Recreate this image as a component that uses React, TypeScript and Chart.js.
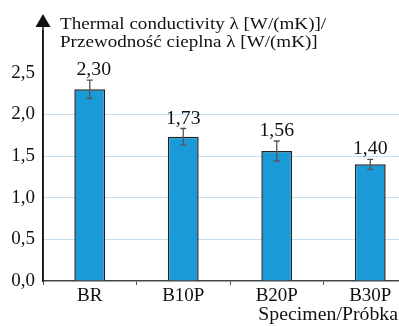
import React, { useEffect, useRef } from "react";
import { Chart, registerables } from "chart.js";

Chart.register(...registerables);

const categories = ["BR", "B10P", "B20P", "B30P"];
const values = [2.3, 1.73, 1.56, 1.4];
const errors = [0.11, 0.1, 0.12, 0.06];
const valueLabels = ["2,30", "1,73", "1,56", "1,40"];
const titleLines = ["Thermal conductivity λ [W/(mK)]/", "Przewodność cieplna λ [W/(mK)]"];
const xTitle = "Specimen/Próbka";

const FONT = '"Liberation Serif", "Times New Roman", serif';

export default function App() {
  const ref = useRef<HTMLCanvasElement | null>(null);
  useEffect(() => {
    const canvas = ref.current!;
    const deco = {
      id: "deco",
      afterDatasetsDraw(chart: any) {
        const ctx = chart.ctx;
        const y = chart.scales.y;
        const x = chart.scales.x;
        const area = chart.chartArea;
        ctx.save();
        // error bars
        values.forEach((v, i) => {
          const cx = x.getPixelForValue(i);
          const t = y.getPixelForValue(v + errors[i]);
          const b = y.getPixelForValue(v - errors[i]);
          ctx.strokeStyle = "#555";
          ctx.lineWidth = 1.3;
          ctx.beginPath();
          ctx.moveTo(cx, t);
          ctx.lineTo(cx, b);
          ctx.moveTo(cx - 3, t);
          ctx.lineTo(cx + 3, t);
          ctx.moveTo(cx - 3, b);
          ctx.lineTo(cx + 3, b);
          ctx.stroke();
          ctx.fillStyle = "#111";
          ctx.font = "18px " + FONT;
          ctx.textAlign = "center";
          ctx.textBaseline = "alphabetic";
          ctx.save();
          ctx.translate(cx + (i === 0 ? 4 : 0), t - 5);
          ctx.scale(1.1, 1);
          ctx.fillText(valueLabels[i], 0, 0);
          ctx.restore();
        });
        // y axis extension + arrow
        const ax = area.left;
        ctx.strokeStyle = "#111";
        ctx.lineWidth = 1.5;
        ctx.beginPath();
        ctx.moveTo(ax, area.bottom);
        ctx.lineTo(ax, 24);
        ctx.stroke();
        ctx.fillStyle = "#111";
        ctx.beginPath();
        ctx.moveTo(ax, 14);
        ctx.lineTo(ax - 7.5, 27);
        ctx.lineTo(ax + 7.5, 27);
        ctx.closePath();
        ctx.fill();
        // titles
        ctx.font = "17.5px " + FONT;
        ctx.textAlign = "left";
        titleLines.forEach((s, i) => {
          ctx.save();
          ctx.translate(60, 29 + i * 18);
          ctx.scale(1.09, 1);
          ctx.fillText(s, 0, 0);
          ctx.restore();
        });
        ctx.font = "18px " + FONT;
        ctx.textAlign = "right";
        ctx.save();
        ctx.translate(398, 320);
        ctx.scale(1.1, 1);
        ctx.fillText(xTitle, 0, 0);
        ctx.restore();
        ctx.restore();
      },
    };
    const chart = new Chart(canvas, {
      type: "bar",
      data: {
        labels: categories,
        datasets: [
          {
            data: values,
            backgroundColor: "#1b9ad8",
            borderColor: "#222",
            borderWidth: 1.5,
            barPercentage: 0.33,
            categoryPercentage: 1,
          },
        ],
      },
      options: {
        responsive: false,
        animation: false,
        layout: { padding: { top: 31, right: 3, left: 0, bottom: 0 } },
        plugins: { legend: { display: false }, tooltip: { enabled: false }, title: { display: false } },
        scales: {
          x: {
            grid: {
              offset: true,
              drawOnChartArea: false,
              drawTicks: true,
              tickLength: 4,
              color: "#555",
              lineWidth: 1,
            },
            border: { color: "#444", width: 1.5 },
            ticks: { color: "#111", font: { family: FONT, size: 19 }, padding: 0, maxRotation: 0 },
            afterFit: (s: any) => {
              s.height = 45;
            },
          },
          y: {
            min: 0,
            max: 3,
            afterBuildTicks: (s: any) => {
              s.ticks = [0, 0.5, 1, 1.5, 2, 2.5].map((v) => ({ value: v }));
            },
            ticks: {
              color: "#111",
              font: { family: FONT, size: 19 },
              padding: 8,
              callback: (v: any) => Number(v).toFixed(1).replace(".", ","),
            },
            grid: {
              drawTicks: false,
              color: (c: any) =>
                c.tick && c.tick.value > 0 && c.tick.value < 2.25 ? "#c2e1f2" : "rgba(0,0,0,0)",
              lineWidth: 1,
            },
            border: { color: "#111", width: 1.5 },
            afterFit: (s: any) => {
              s.width = 43;
            },
          },
        },
      },
      plugins: [deco],
    });
    return () => chart.destroy();
  }, []);
  return (
    <div style={{ position: "fixed", left: 0, top: 0, width: 399, height: 326, overflow: "hidden", background: "#fff" }}>
      <canvas ref={ref} width={420} height={326} style={{ width: 420, height: 326, display: "block" }} />
    </div>
  );
}
